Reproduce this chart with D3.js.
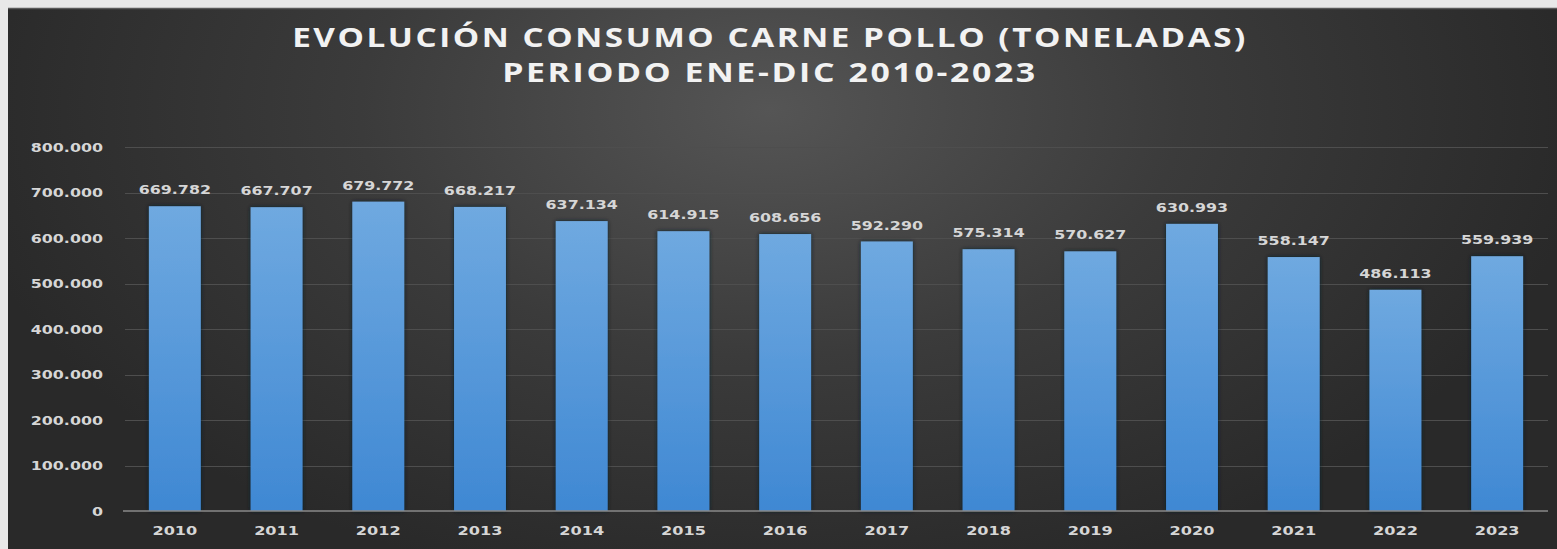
<!DOCTYPE html>
<html>
<head>
<meta charset="utf-8">
<script src="https://cdn.jsdelivr.net/npm/d3@7"></script>
<style>
  html, body { margin: 0; padding: 0; background: #e8e8e8; }
  svg { display: block; }
</style>
</head>
<body>
<svg id="chart" width="1557" height="549"></svg>
<script>
// dati
const anni    = ["2010","2011","2012","2013","2014","2015","2016","2017","2018","2019","2020","2021","2022","2023"];
const valori  = [669782, 667707, 679772, 668217, 637134, 614915, 608656, 592290, 575314, 570627, 630993, 558147, 486113, 559939];
const yTicks  = [0, 100000, 200000, 300000, 400000, 500000, 600000, 700000, 800000];
const titolo  = ["EVOLUCIÓN CONSUMO CARNE POLLO (TONELADAS)", "PERIODO ENE-DIC 2010-2023"];

const W = 1557, H = 549;
const svg = d3.select("#chart");
const defs = svg.append("defs");

const loc = d3.formatLocale({ decimal: ",", thousands: ".", grouping: [3], currency: ["", ""] });
const fmt = loc.format(",d");

// allarga i testi in orizzontale (il grafico originale è "stirato")
function allarga(sel, k) {
  sel.each(function() {
    const w = this.getComputedTextLength();
    d3.select(this).attr("textLength", w * k).attr("lengthAdjust", "spacingAndGlyphs");
  });
}

/* ── sfondo ───────────────────────────── */
const bg = defs.append("radialGradient")
  .attr("id", "bg").attr("gradientUnits", "userSpaceOnUse")
  .attr("cx", 770).attr("cy", 110).attr("r", 820)
  .attr("gradientTransform", "translate(770,110) scale(1,0.6) translate(-770,-110)");
bg.append("stop").attr("offset", "0").attr("stop-color", "#555555");
bg.append("stop").attr("offset", "0.5").attr("stop-color", "#3b3b3b");
bg.append("stop").attr("offset", "1").attr("stop-color", "#292929");

const barGrad = defs.append("linearGradient")
  .attr("id", "bar").attr("x1", 0).attr("y1", 0).attr("x2", 0).attr("y2", 1);
barGrad.append("stop").attr("offset", "0").attr("stop-color", "#6fa9e0");
barGrad.append("stop").attr("offset", "1").attr("stop-color", "#3f88d3");

const ombra = defs.append("filter").attr("id", "ombra")
  .attr("x", "-20%").attr("y", "-5%").attr("width", "140%").attr("height", "110%");
ombra.append("feDropShadow").attr("dx", 0).attr("dy", 0).attr("stdDeviation", 2)
  .attr("flood-color", "#0b1a2a").attr("flood-opacity", 0.9);

svg.append("rect").attr("x", 8).attr("y", 8).attr("width", W - 8).attr("height", H - 8)
  .attr("fill", "url(#bg)");
svg.append("line").attr("x1", 8).attr("x2", W).attr("y1", 8.5).attr("y2", 8.5)
  .attr("stroke", "#5a5a5a").attr("stroke-width", 1.5);

/* ── titolo ───────────────────────────── */
const tl = [{ y: 47, len: 956 }, { y: 82, len: 536 }];
svg.append("g").selectAll("g").data(titolo).join("g")
  .attr("transform", (d, i) => `translate(770,${tl[i].y})`)
  .append("text")
  .attr("text-anchor", "middle")
  .attr("fill", "#f2f2f2")
  .style("font", "bold 26px 'Open Sans', sans-serif")
  .style("letter-spacing", "2px")
  .text(d => d)
  .each(function(d, i) {
    const w = this.getBBox().width;
    d3.select(this.parentNode).attr("transform", `translate(770,${tl[i].y}) scale(${tl[i].len / w},1)`);
  });

/* ── scale ───────────────────────────── */
const x = d3.scaleBand().domain(anni).range([124, 1548]).paddingInner(0.49).paddingOuter(0.245);
const y = d3.scaleLinear().domain([0, 800000]).range([511, 147]);

const numFont = "bold 13px 'DejaVu Sans', sans-serif";
const K = 1.22;

// griglia
svg.append("g").selectAll("line").data(yTicks.slice(1)).join("line")
  .attr("x1", 125).attr("x2", 1548)
  .attr("y1", d => Math.round(y(d)) + 0.5).attr("y2", d => Math.round(y(d)) + 0.5)
  .attr("stroke", "#4e4e4e").attr("stroke-width", 1);

// asse y
const yAxis = svg.append("g")
  .attr("transform", "translate(103,0)")
  .call(d3.axisLeft(y).tickValues(yTicks).tickSize(0).tickPadding(0).tickFormat(d => fmt(d)));
yAxis.select(".domain").remove();
yAxis.selectAll("text")
  .attr("fill", "#d6d6d6")
  .style("font", numFont)
  .call(allarga, K);

// barre
svg.append("g").selectAll("rect").data(valori).join("rect")
  .attr("x", (d, i) => x(anni[i]))
  .attr("y", d => y(d))
  .attr("width", x.bandwidth())
  .attr("height", d => y(0) - y(d))
  .attr("fill", "url(#bar)")
  .attr("filter", "url(#ombra)");

// etichette valori
svg.append("g").selectAll("text").data(valori).join("text")
  .attr("x", (d, i) => x(anni[i]) + x.bandwidth() / 2)
  .attr("y", d => y(d) - 12)
  .attr("text-anchor", "middle")
  .attr("fill", "#d6d6d6")
  .style("font", numFont)
  .text(d => fmt(d))
  .call(allarga, K);

// asse x
const xAxis = svg.append("g")
  .attr("transform", "translate(0,511)")
  .call(d3.axisBottom(x).tickSize(0).tickPadding(15));
xAxis.select(".domain").attr("stroke", "#8a8a8a").attr("stroke-width", 1.5)
  .attr("d", "M123,0H1548");
xAxis.selectAll("text")
  .attr("fill", "#d6d6d6")
  .style("font", numFont)
  .call(allarga, 1.24);
</script>
</body>
</html>
